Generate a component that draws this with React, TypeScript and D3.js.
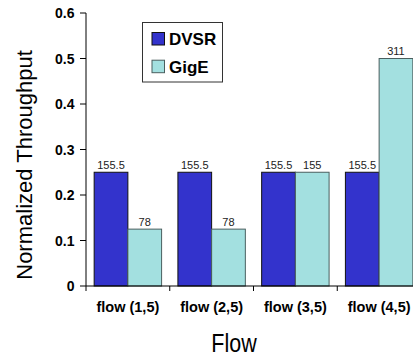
import React from "react";
import * as d3 from "d3";

const categories = ["flow (1,5)", "flow (2,5)", "flow (3,5)", "flow (4,5)"];
const seriesNames = ["DVSR", "GigE"];
const dvsrValues = [0.25, 0.25, 0.25, 0.25];
const gigeValues = [0.125, 0.125, 0.25, 0.5];
const dvsrLabels = ["155.5", "155.5", "155.5", "155.5"];
const gigeLabels = ["78", "78", "155", "311"];
const yTicks = [0, 0.1, 0.2, 0.3, 0.4, 0.5, 0.6];

const W = 413;
const H = 356;
const left = 86;
const right = 421;
const top = 13;
const bottom = 286;
const font = "'Liberation Sans', Arial, sans-serif";
const colors = ["#3333CC", "#A3E0E0"];
const strokes = ["#111111", "#4a5f5f"];

export default function App() {
  const x0 = d3.scaleBand<string>().domain(categories).range([left, right]).paddingInner(0).paddingOuter(0);
  const x1 = d3.scaleBand<string>().domain(seriesNames).range([0, x0.bandwidth()]).paddingInner(0).paddingOuter(0.242);
  const y = d3.scaleLinear().domain([0, 0.6]).range([bottom, top]);
  const values = [dvsrValues, gigeValues];
  const labels = [dvsrLabels, gigeLabels];
  const fmt = (d: number) => (d === 0 ? "0" : d3.format(".1f")(d));

  return (
    <svg width={W} height={H} style={{ position: "absolute", left: 0, top: 0, background: "#fff" }} fontFamily={font}>
      <rect x={0} y={0} width={W} height={H} fill="#fff" />
      {categories.map((c, i) => (
        <g key={c}>
          {seriesNames.map((s, k) => {
            const bx = (x0(c) as number) + (x1(s) as number);
            const v = values[k][i];
            return (
              <g key={s}>
                <rect x={bx} y={y(v)} width={x1.bandwidth()} height={bottom - y(v)} fill={colors[k]} stroke={strokes[k]} strokeWidth={1} />
                <text x={bx + x1.bandwidth() / 2} y={y(v) - 3.5} textAnchor="middle" fontSize={11} fill="#222">
                  {labels[k][i]}
                </text>
              </g>
            );
          })}
        </g>
      ))}
      {/* y axis */}
      <line x1={left} x2={left} y1={top} y2={bottom} stroke="#000" />
      {yTicks.map((t) => (
        <g key={t}>
          <line x1={left - 6} x2={left} y1={y(t)} y2={y(t)} stroke="#000" />
          <text x={74.5} y={y(t)} dy="0.36em" textAnchor="end" fontSize={14} fontWeight="bold" fill="#000">
            {fmt(t)}
          </text>
        </g>
      ))}
      {/* x axis */}
      <line x1={left} x2={right} y1={bottom} y2={bottom} stroke="#000" />
      {categories.map((c) => (
        <g key={c}>
          <line x1={x0(c) as number} x2={x0(c) as number} y1={bottom} y2={bottom + 5} stroke="#000" />
          <text x={(x0(c) as number) + x0.bandwidth() / 2} y={312.3} textAnchor="middle" fontSize={14.5} fontWeight="bold" fill="#000">
            {c}
          </text>
        </g>
      ))}
      <text transform="translate(234,351.5) scale(1,1.22)" textAnchor="middle" fontSize={21.5} fill="#000">Flow</text>
      <text transform="translate(32,165) rotate(-90)" textAnchor="middle" fontSize={22} fill="#000">
        Normalized Throughput
      </text>
      {/* legend */}
      <rect x={142.5} y={22.5} width={80} height={59.5} fill="#fff" stroke="#333" />
      {seriesNames.map((s, k) => (
        <g key={s}>
          <rect x={152} y={32.5 + k * 27.7} width={12.5} height={12.5} fill={colors[k]} stroke={strokes[k]} />
          <text x={169} y={45 + k * 27.7} fontSize={17} fontWeight="bold" fill="#000">
            {s}
          </text>
        </g>
      ))}
    </svg>
  );
}
